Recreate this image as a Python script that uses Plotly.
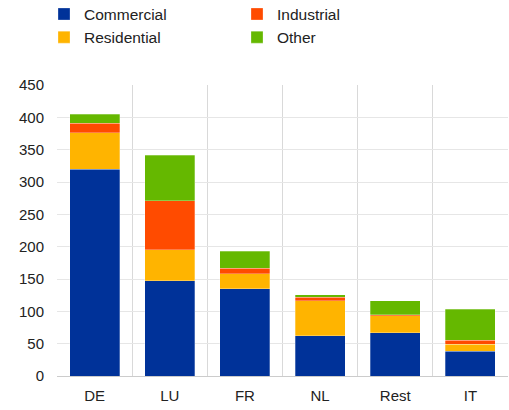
import plotly.graph_objects as go

categories = ["DE", "LU", "FR", "NL", "Rest", "IT"]
commercial = [320, 147, 135, 62, 67, 38]
residential = [56, 48, 23, 54, 26, 11]
industrial = [15, 76, 9, 6, 2, 6]
other = [14, 70, 26, 4, 21, 48]

series = [
    ("Commercial", commercial, "#003299", 1),
    ("Residential", residential, "#FFB400", 3),
    ("Industrial", industrial, "#FF4B00", 2),
    ("Other", other, "#65B800", 4),
]

x = list(range(len(categories)))
fig = go.Figure()
for name, vals, color, rank in series:
    fig.add_trace(go.Bar(
        x=x, y=vals, name=name, legendrank=rank,
        marker=dict(color=color, line=dict(width=0.8, color="rgba(255,255,255,0.35)")),
        width=0.667,
    ))

font = "Liberation Sans, Arial, sans-serif"
fig.update_layout(
    barmode="stack",
    width=509, height=410,
    margin=dict(l=57, r=1, t=85, b=34, autoexpand=False),
    plot_bgcolor="white", paper_bgcolor="white",
    font=dict(family=font, size=15, color="#222222"),
    showlegend=True,
    legend=dict(
        orientation="h", x=44 / 509, xanchor="left", y=1.301, yanchor="top",
        yref="paper", xref="container",
        entrywidth=148, entrywidthmode="pixels",
        font=dict(size=15.5, color="#222222"),
        traceorder="normal",
        tracegroupgap=0,
        bgcolor="rgba(0,0,0,0)",
    ),
    bargap=0.333,
)
fig.update_xaxes(
    tickmode="array", tickvals=x, ticktext=categories,
    range=[-0.5, len(categories) - 0.5],
    showgrid=False, zeroline=False,
    showline=True, linecolor="#cccccc", linewidth=1,
    ticks="", ticklabelstandoff=6,
    minor=dict(tickmode="array", tickvals=[i - 0.5 for i in range(len(categories) + 1)],
               showgrid=True, gridcolor="#d9d9d9", gridwidth=1, ticks=""),
)
fig.update_yaxes(
    range=[0, 450], dtick=50, tick0=0,
    showgrid=True, gridcolor="#e6e6e6", gridwidth=1,
    zeroline=False, showline=False, ticks="", ticklabelstandoff=12,
)
fig.write_html("out.html", config={"displayModeBar": False},
               post_script="document.body.style.margin='0';document.body.style.overflow='hidden';")
